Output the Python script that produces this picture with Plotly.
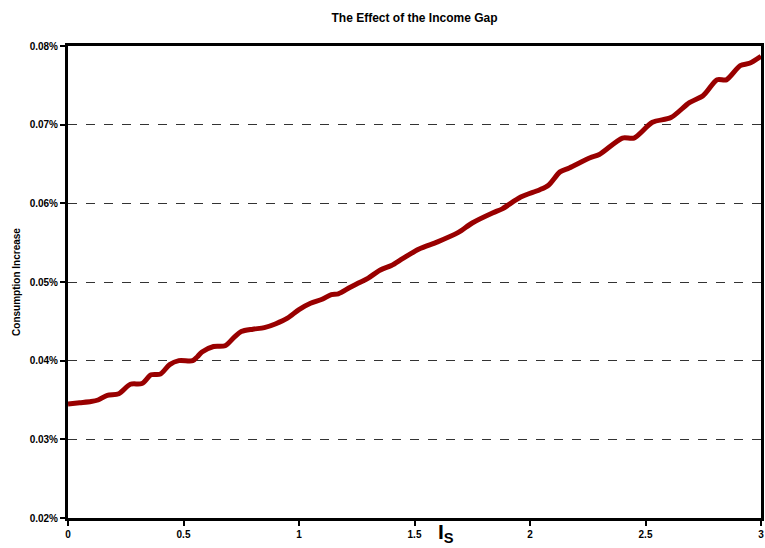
import plotly.graph_objects as go

income_gap = [0.0, 0.05, 0.1, 0.13, 0.17, 0.22, 0.27, 0.32, 0.36, 0.40, 0.44, 0.48, 0.54, 0.56,
              0.58, 0.63, 0.68, 0.72, 0.75, 0.80, 0.85, 0.90, 0.95, 1.0, 1.05, 1.1, 1.14, 1.17,
              1.22, 1.26, 1.3, 1.35, 1.4, 1.45, 1.52, 1.6, 1.69, 1.75, 1.84, 1.88, 1.96, 2.04,
              2.08, 2.13, 2.17, 2.26, 2.3, 2.4, 2.45, 2.53, 2.61, 2.69, 2.75, 2.81, 2.85, 2.91,
              2.95, 3.0]
consumption_increase = [0.0345, 0.03465, 0.0348, 0.0350, 0.0356, 0.0358, 0.0370, 0.0371, 0.0382,
                        0.0383, 0.0395, 0.0400, 0.0400, 0.0405, 0.0411, 0.0418, 0.0419, 0.0430,
                        0.0437, 0.0440, 0.0442, 0.0447, 0.0454, 0.0465, 0.0473, 0.0478, 0.0484,
                        0.0485, 0.0493, 0.0499, 0.0505, 0.0515, 0.0521, 0.0530, 0.0542, 0.0551,
                        0.0563, 0.0575, 0.0588, 0.0593, 0.0608, 0.0617, 0.0623, 0.0640, 0.0645,
                        0.0658, 0.0662, 0.0683, 0.0683, 0.0703, 0.0709, 0.0728, 0.0737, 0.0757,
                        0.0757, 0.0775, 0.0778, 0.0787]
x_ticks = [0, 0.5, 1, 1.5, 2, 2.5, 3]
x_tick_labels = ["0", "0.5", "1", "1.5", "2", "2.5", "3"]
y_ticks = [0.02, 0.03, 0.04, 0.05, 0.06, 0.07, 0.08]
y_tick_labels = ["0.02%", "0.03%", "0.04%", "0.05%", "0.06%", "0.07%", "0.08%"]

font_family = "Liberation Sans, Arial, sans-serif"

fig = go.Figure()
fig.add_trace(go.Scatter(
    x=income_gap, y=consumption_increase, mode="lines",
    line=dict(color="#990000", width=5, shape="spline", smoothing=0.8),
    hoverinfo="skip", showlegend=False,
))

fig.update_layout(
    width=765, height=548,
    autosize=False,
    margin=dict(l=68, r=4, t=46, b=30, autoexpand=False),
    plot_bgcolor="white", paper_bgcolor="white",
    title=dict(text="The Effect of the Income Gap", x=0.5, xref="paper", xanchor="center",
               y=1 - 18 / 548, yanchor="middle",
               font=dict(family=font_family, size=12, color="black", weight="bold")),
    xaxis=dict(range=[0, 3], tickvals=x_ticks, ticktext=x_tick_labels,
               showgrid=False, zeroline=False, automargin=False,
               showline=True, linecolor="black", linewidth=3, mirror=True,
               ticks="outside", ticklen=5, tickwidth=2, tickcolor="black",
               tickfont=dict(family=font_family, size=10, color="black", weight="bold")),
    yaxis=dict(range=[0.02, 0.08], tickvals=y_ticks, ticktext=y_tick_labels,
               showgrid=True, gridcolor="#333333", griddash="dash", gridwidth=1,
               zeroline=False, automargin=False,
               showline=True, linecolor="black", linewidth=3, mirror=True,
               ticks="outside", ticklen=5, tickwidth=2, tickcolor="black",
               tickfont=dict(family=font_family, size=10, color="black", weight="bold"),
               title=dict(text="Consumption Increase", standoff=8,
                          font=dict(family=font_family, size=10, color="black", weight="bold"))),
)

fig.add_annotation(
    text="I<sub>S</sub>", xref="paper", yref="paper",
    x=(436 - 68) / (761 - 68), xanchor="left",
    y=-30 / 472, yanchor="bottom", showarrow=False,
    font=dict(family=font_family, size=21, color="black", weight="bold"),
)

fig.write_html(
    "out.html",
    config={"displayModeBar": False},
    post_script="document.body.style.margin='0';document.body.style.overflow='hidden';",
)
